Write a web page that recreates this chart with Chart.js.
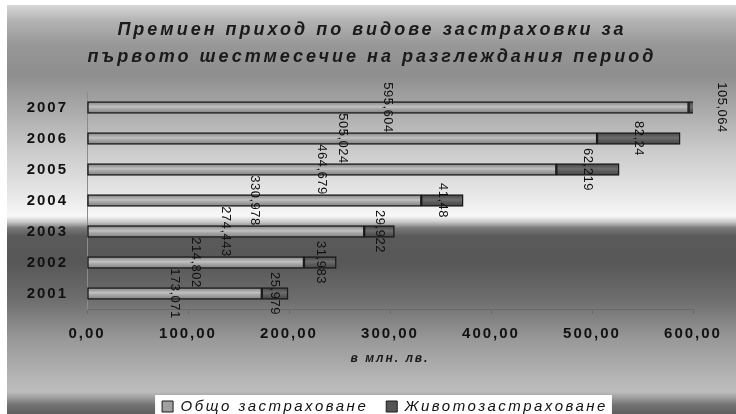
<!DOCTYPE html>
<html>
<head>
<meta charset="utf-8">
<script src="https://cdn.jsdelivr.net/npm/chart.js@4/dist/chart.umd.min.js"></script>
<style>
  html, body { margin: 0; padding: 0; background: #fff; }
  #wrap { width: 736px; height: 414px; }
</style>
</head>
<body>
<div id="wrap"><canvas id="c" width="736" height="414"></canvas></div>
<script>
// Premium income by insurance type, first half-year, million BGN
const years = ['2001', '2002', '2003', '2004', '2005', '2006', '2007'];
const generalIns = [173.071, 214.802, 274.443, 330.978, 464.679, 505.024, 595.604];
const lifeIns = [25.979, 31.983, 29.922, 41.48, 62.219, 82.24, 105.064];
const seriesNames = ['Общо застраховане', 'Животозастраховане'];
const titleLines = ['Премиен приход по видове застраховки за', 'първото шестмесечие на разглеждания период'];
const axisTitle = 'в млн. лв.';

const FONT = "'Liberation Sans', Arial, sans-serif";

// vertical background shading: [y pixel, colour]
const bgStops = [
  [5, '#d8d8d8'], [20, '#b4b4b4'], [45, '#979797'], [75, '#8e8e8e'],
  [100, '#a2a2a2'], [150, '#cacaca'], [200, '#ebebeb'], [216, '#f8f8f8'],
  [222, '#c8c8c8'], [228, '#7a7a7a'], [236, '#5a5a5a'], [262, '#575757'],
  [300, '#6e6e6e'], [340, '#999999'], [380, '#b6b6b6'], [392, '#bcbcbc'],
  [398, '#9c9c9c'], [405, '#727272'], [414, '#5f5f5f']
];

const fmt = v => String(v).replace('.', ',');

function barGradient(edge, mid, light) {
  return (c) => {
    const chart = c.chart;
    if (!chart.chartArea || c.type !== 'data') return mid;
    const y = chart.scales.y.getPixelForValue(c.dataIndex);
    const g = chart.ctx.createLinearGradient(0, y - 6, 0, y + 6);
    g.addColorStop(0, edge);
    g.addColorStop(0.45, light);
    g.addColorStop(0.6, mid);
    g.addColorStop(1, edge);
    return g;
  };
}

// run a box's draw with a given letter spacing
function spaced(box, spacing) {
  if (!box || box._spaced) return;
  const orig = box.draw.bind(box);
  box.draw = function (...args) {
    const ctx = this.ctx;
    const prev = ctx.letterSpacing;
    ctx.letterSpacing = spacing;
    orig(...args);
    ctx.letterSpacing = prev;
  };
  box._spaced = true;
}

const backdrop = {
  id: 'backdrop',
  beforeLayout(chart) { chart.ctx.letterSpacing = '2.5px'; },
  beforeDraw(chart) {
    const ctx = chart.ctx, W = chart.width, H = chart.height;
    ctx.save();
    ctx.fillStyle = '#ffffff';
    ctx.fillRect(0, 0, W, H);
    const g = ctx.createLinearGradient(0, 5, 0, H);
    bgStops.forEach(([y, col]) => g.addColorStop(Math.min(1, Math.max(0, (y - 5) / (H - 5))), col));
    ctx.fillStyle = g;
    ctx.fillRect(7, 5, W - 7, H - 5);
    // white panel behind the legend
    const hb = chart.legend && chart.legend.legendHitBoxes;
    if (hb && hb.length) {
      const l = Math.min(...hb.map(b => b.left)) - 7;
      const r = Math.max(...hb.map(b => b.left + b.width)) + 4;
      const t = Math.min(...hb.map(b => b.top)) - 4;
      ctx.fillStyle = '#ffffff';
      ctx.fillRect(l, t, r - l, H - t);
    }
    ctx.restore();
    ctx.letterSpacing = '2px';
  },
  afterLayout(chart) {
    // title and legend sit a little right of the plot's centre
    if (chart.titleBlock) {
      chart.titleBlock.left += 22; chart.titleBlock.right += 22;
      spaced(chart.titleBlock, '3px');
    }
    if (chart.legend) {
      chart.legend.left += 35; chart.legend.right += 35;
      spaced(chart.legend, '2.5px');
    }
  }
};

const valueLabels = {
  id: 'valueLabels',
  afterDatasetsDraw(chart) {
    const ctx = chart.ctx;
    ctx.save();
    ctx.letterSpacing = '0.5px';
    ctx.font = '13px ' + FONT;
    ctx.fillStyle = '#111111';
    ctx.textAlign = 'center';
    ctx.textBaseline = 'middle';
    chart.data.datasets.forEach((ds, di) => {
      const meta = chart.getDatasetMeta(di);
      meta.data.forEach((el, i) => {
        let x = (el.x + el.base) / 2;
        x = Math.min(x, chart.width - 14);
        ctx.save();
        ctx.translate(x, el.y);
        ctx.rotate(Math.PI / 2);
        ctx.fillText(fmt(ds.data[i]), 0, 0);
        ctx.restore();
      });
    });
    ctx.restore();
  }
};

new Chart(document.getElementById('c'), {
  type: 'bar',
  data: {
    labels: years,
    datasets: [
      {
        label: seriesNames[0],
        data: generalIns,
        backgroundColor: barGradient('#808080', '#a8a8a8', '#c2c2c2'),
        borderColor: '#1a1a1a',
        borderWidth: 1.5,
        borderSkipped: false,
        barThickness: 12
      },
      {
        label: seriesNames[1],
        data: lifeIns,
        backgroundColor: barGradient('#444444', '#5e5e5e', '#6e6e6e'),
        borderColor: '#1a1a1a',
        borderWidth: 1.5,
        borderSkipped: false,
        barThickness: 12
      }
    ]
  },
  options: {
    indexAxis: 'y',
    responsive: false,
    animation: false,
    devicePixelRatio: 1,
    layout: { padding: { left: 7, right: 43, top: 0, bottom: -10 } },
    scales: {
      x: {
        stacked: true,
        min: 0,
        max: 600,
        ticks: {
          stepSize: 100,
          autoSkip: false,
          maxRotation: 0,
          padding: 11,
          color: '#111111',
          font: { family: FONT, size: 15, weight: 'bold' },
          callback: v => v.toFixed(2).replace('.', ',')
        },
        grid: { drawOnChartArea: false, drawTicks: true, tickLength: 5, color: '#6a6a6a' },
        border: { display: true, color: '#6a6a6a', width: 1 },
        title: {
          display: true,
          text: axisTitle,
          color: '#1a1a1a',
          font: { family: FONT, size: 12, weight: 'bold', style: 'italic' },
          padding: { top: 4, bottom: 15 }
        },
        afterFit(s) { s.height = 72; s.paddingLeft = 0; s.paddingRight = 0; }
      },
      y: {
        stacked: true,
        reverse: true,
        ticks: {
          padding: 19,
          color: '#111111',
          font: { family: FONT, size: 15, weight: 'bold' }
        },
        grid: { drawOnChartArea: false, drawTicks: false },
        border: { display: true, color: '#8c8c8c', width: 1 },
        afterFit(s) { s.width = 80; s.paddingTop = 0; s.paddingBottom = 0; }
      }
    },
    plugins: {
      title: {
        display: true,
        text: titleLines,
        color: '#1a1a1a',
        font: { family: FONT, size: 18, weight: 'bold', style: 'italic', lineHeight: 1.5 },
        padding: { top: 17, bottom: 21 }
      },
      legend: {
        display: true,
        position: 'bottom',
        labels: {
          boxWidth: 11,
          boxHeight: 11,
          padding: 18,
          color: '#111111',
          font: { family: FONT, size: 15, style: 'italic' },
          generateLabels(chart) {
            const items = Chart.defaults.plugins.legend.labels.generateLabels(chart);
            const fills = ['#a0a0a0', '#555555'];
            items.forEach((it, i) => { it.fillStyle = fills[i]; it.strokeStyle = '#1a1a1a'; it.lineWidth = 1; });
            return items;
          }
        }
      },
      tooltip: { enabled: false }
    }
  },
  plugins: [backdrop, valueLabels]
});
</script>
</body>
</html>
